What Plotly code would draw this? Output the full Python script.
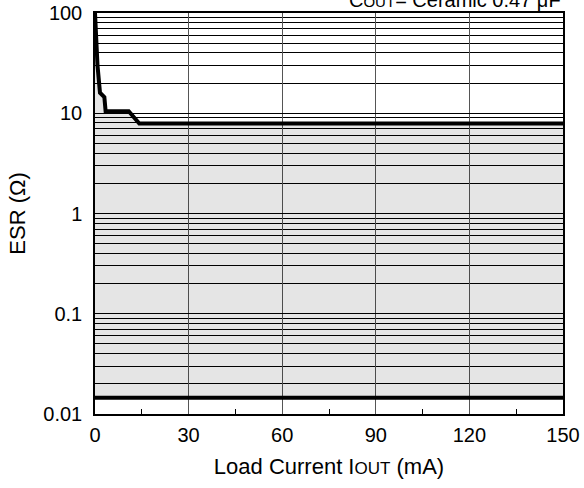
import plotly.graph_objects as go

# Data
curve_x = [0, 0.8, 1.6, 3.0, 3.4, 10.8, 14.2, 150]
curve_esr = [100, 30, 16, 14.5, 10.5, 10.5, 7.9, 7.9]
lower_x = [0, 150]
lower_esr = [0.0145, 0.0145]
x_ticks = [0, 30, 60, 90, 120, 150]
y_ticks = [0.01, 0.1, 1, 10, 100]
y_tick_text = ["0.01", "0.1", "1", "10", "100"]
minor_y = [k * 10 ** e for e in range(-2, 2) for k in range(2, 10)]

FONT = "Liberation Sans, Arial, sans-serif"

fig = go.Figure()
fig.add_trace(go.Scatter(x=lower_x, y=lower_esr, mode="lines",
                         line=dict(color="black", width=4), showlegend=False))
fig.add_trace(go.Scatter(x=curve_x, y=curve_esr, mode="lines",
                         line=dict(color="black", width=4), fill="tonexty",
                         fillcolor="rgba(0,0,0,0.1)", showlegend=False))

fig.update_layout(
    width=584, height=488,
    margin=dict(l=95, r=21, t=13, b=74),
    paper_bgcolor="white", plot_bgcolor="white",
    font=dict(family=FONT, size=20, color="black"),
    xaxis=dict(range=[0, 150], tickvals=x_ticks, showgrid=True, automargin=False,
               gridcolor="#555555", gridwidth=1, showline=True, linecolor="black",
               linewidth=1.5, mirror=True, ticks="", zeroline=False,
               ticklabelstandoff=2,
               minor=dict(tickvals=[15, 45, 75, 105, 135], ticks="inside",
                          ticklen=5, tickcolor="black", showgrid=False),
               title=dict(text="Load Current I<span style='font-size:17px'>OUT</span> (mA)",
                          font=dict(size=22), standoff=14)),
    yaxis=dict(type="log", range=[-2, 2], tickvals=y_ticks, ticktext=y_tick_text,
               showgrid=True, gridcolor="black", gridwidth=1, showline=True,
               linecolor="black", linewidth=1.5, mirror=True, ticks="",
               zeroline=False, automargin=False, ticklabelstandoff=7,
               minor=dict(tickvals=minor_y, showgrid=True, gridcolor="black",
                          gridwidth=1, ticks=""),
               title=dict(text="ESR (Ω)", font=dict(size=22), standoff=12)),
)
fig.add_annotation(text="C<span style='font-size:15px'>OUT</span>= Ceramic 0.47 μF",
                   xref="paper", yref="paper", x=1, y=1, xanchor="right",
                   yanchor="bottom", yshift=0, showarrow=False,
                   font=dict(size=20))

fig.write_html("out.html", config={"displayModeBar": False},
               post_script="document.body.style.margin='0';document.body.style.overflow='hidden';")
